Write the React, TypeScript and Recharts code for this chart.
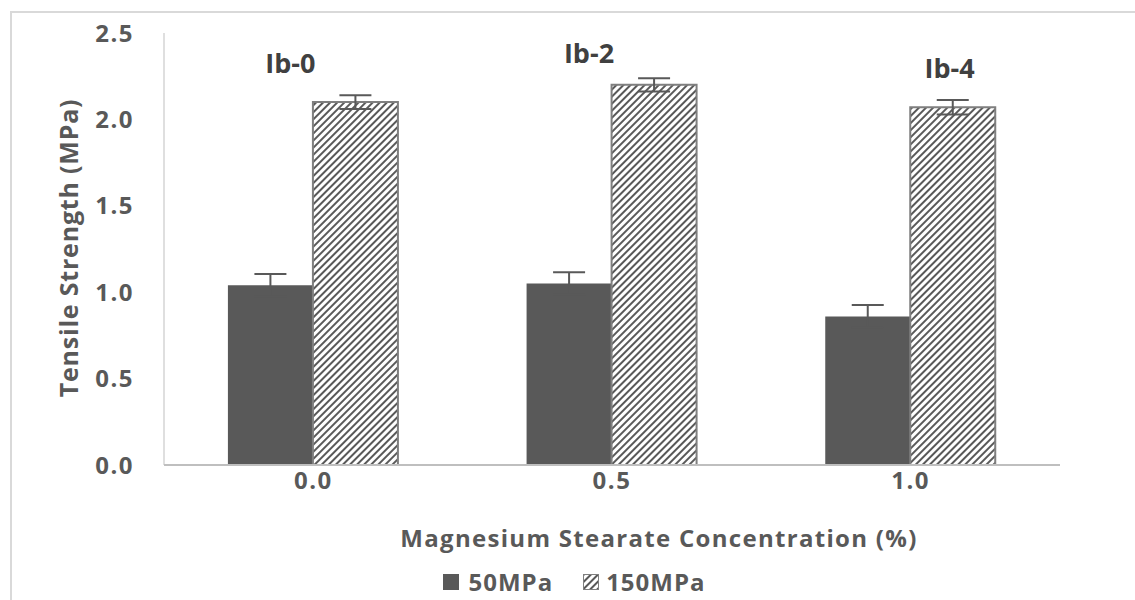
import React from "react";
import {
  BarChart,
  Bar,
  XAxis,
  YAxis,
  ErrorBar,
  Legend,
  ReferenceDot,
} from "recharts";

const categories = ["0.0", "0.5", "1.0"];
const mpa50 = [1.04, 1.05, 0.86];
const mpa150 = [2.1, 2.2, 2.07];
const err50 = [0.065, 0.065, 0.066];
const err150 = [0.04, 0.038, 0.042];
const yTicks = [0, 0.5, 1.0, 1.5, 2.0, 2.5];

// "Ib-x" tags, placed next to a category at a given value
const tagLabels = ["Ib-0", "Ib-2", "Ib-4"];
const tagValues = [2.33, 2.39, 2.3];
const tagShift = [-23, -23, 39];

const data = categories.map((c, i) => ({
  conc: c,
  mpa50: mpa50[i],
  mpa150: mpa150[i],
  err50: err50[i],
  err150: err150[i],
}));

const FONT = "'Open Sans', 'DejaVu Sans', sans-serif";
const GREY = "#595959";

const TagShape = (props: any) => {
  const { cx, cy, label, shift } = props;
  return (
    <text
      x={cx + shift}
      y={cy}
      textAnchor="middle"
      dominantBaseline="central"
      fontFamily={FONT}
      fontWeight={700}
      fontSize={27}
      fill="#404040"
    >
      {label}
    </text>
  );
};

const XTitle = (props: any) => {
  const { viewBox } = props;
  const cx = viewBox.x + viewBox.width / 2 + 47;
  return (
    <text
      x={cx}
      y={537}
      textAnchor="middle"
      dominantBaseline="central"
      fontFamily={FONT}
      fontWeight={700}
      fontSize={24}
      letterSpacing={1.3}
      fill={GREY}
    >
      Magnesium Stearate Concentration (%)
    </text>
  );
};

const YTitle = () => (
  <text
    x={68}
    y={248}
    transform="rotate(-90 68 248)"
    textAnchor="middle"
    dominantBaseline="central"
    fontFamily={FONT}
    fontWeight={700}
    fontSize={25}
    letterSpacing={0.8}
    fill={GREY}
  >
    Tensile Strength (MPa)
  </text>
);

const LegendContent = () => (
  <div
    style={{
      display: "flex",
      justifyContent: "center",
      alignItems: "center",
      fontFamily: FONT,
      fontWeight: 700,
      fontSize: 24,
      letterSpacing: 1,
      color: GREY,
    }}
  >
    <svg width={16} height={16} style={{ marginRight: 9 }}>
      <rect x={0} y={0} width={16} height={16} fill={GREY} />
    </svg>
    <span style={{ marginRight: 30 }}>50MPa</span>
    <svg width={16} height={16} style={{ marginRight: 7 }}>
      <rect x={0.5} y={0.5} width={15} height={15} fill="url(#hatch)" stroke="#7f7f7f" />
    </svg>
    <span>150MPa</span>
  </div>
);

export default function App() {
  return (
    <div
      style={{
        position: "fixed",
        left: 0,
        top: 0,
        width: 1135,
        height: 600,
        overflow: "hidden",
        background: "#fff",
      }}
    >
      <div
        style={{
          position: "absolute",
          left: 10,
          top: 11,
          width: 1200,
          height: 700,
          border: "2px solid #d9d9d9",
        }}
      />
      <div style={{ position: "absolute", left: 0, top: 0 }}>
        <BarChart
          width={1135}
          height={600}
          data={data}
          margin={{ top: 33, right: 75, left: 74, bottom: 0 }}
          barCategoryGap="21.4%"
          barGap={0}
        >
          <defs>
            <pattern
              id="hatch"
              patternUnits="userSpaceOnUse"
              width={5}
              height={5}
              patternTransform="rotate(45)"
            >
              <rect width={5} height={5} fill="#fff" />
              <line x1={1} y1={0} x2={1} y2={5} stroke={GREY} strokeWidth={2} />
            </pattern>
          </defs>
          <XAxis
            dataKey="conc"
            height={100}
            tickLine={false}
            tickSize={0}
            tickMargin={7}
            axisLine={{ stroke: "#bfbfbf", strokeWidth: 2 }}
            tick={{
              fill: GREY,
              fontFamily: FONT,
              fontWeight: 700,
              fontSize: 24,
              letterSpacing: 1.5,
            }}
            label={<XTitle />}
          />
          <YAxis
            width={90}
            domain={[0, 2.5]}
            ticks={yTicks}
            interval={0}
            tickFormatter={(v: number) => v.toFixed(1)}
            tickLine={false}
            tickSize={0}
            tickMargin={30}
            axisLine={{ stroke: "#bfbfbf", strokeWidth: 1 }}
            tick={{
              fill: GREY,
              fontFamily: FONT,
              fontWeight: 700,
              fontSize: 24,
              letterSpacing: 1.5,
            }}
            label={<YTitle />}
          />
          <Bar dataKey="mpa50" name="50MPa" fill={GREY} isAnimationActive={false}>
            <ErrorBar
              dataKey="err50"
              width={16}
              stroke={GREY}
              strokeWidth={2}
              direction="y"
            />
          </Bar>
          <Bar
            dataKey="mpa150"
            name="150MPa"
            fill="url(#hatch)"
            stroke="#7f7f7f"
            strokeWidth={2}
            isAnimationActive={false}
          >
            <ErrorBar
              dataKey="err150"
              width={16}
              stroke={GREY}
              strokeWidth={2}
              direction="y"
            />
          </Bar>
          {categories.map((c, i) => (
            <ReferenceDot
              key={c}
              x={c}
              y={tagValues[i]}
              r={0}
              shape={(p: any) => (
                <TagShape {...p} label={tagLabels[i]} shift={tagShift[i]} />
              )}
            />
          ))}
          <Legend
            verticalAlign="bottom"
            height={35}
            content={<LegendContent />}
            wrapperStyle={{ left: 7, width: 1135, paddingTop: 0 }}
          />
        </BarChart>
      </div>
    </div>
  );
}
